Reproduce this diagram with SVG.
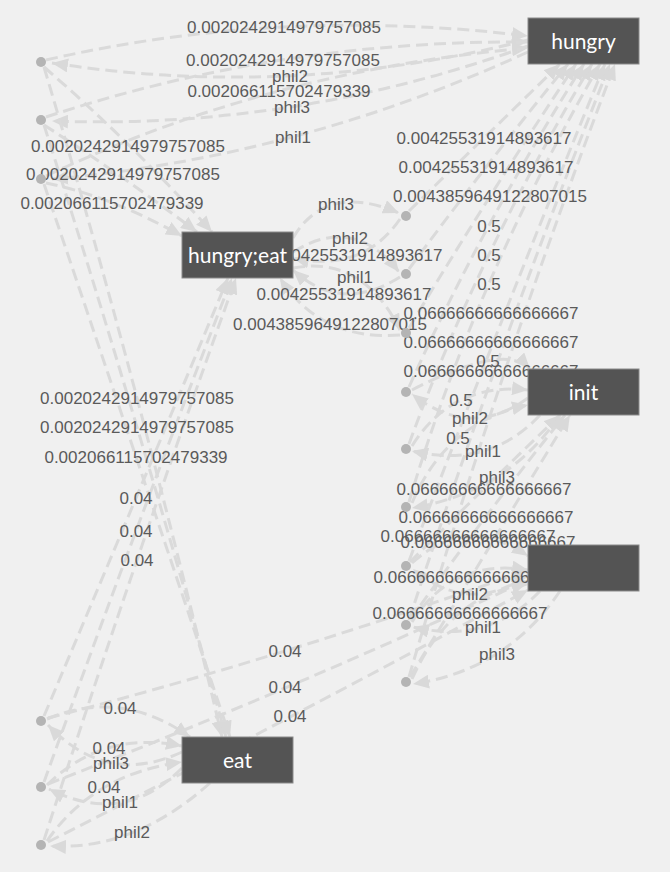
<svg xmlns="http://www.w3.org/2000/svg" width="670" height="872" viewBox="0 0 670 872">
<defs>
<marker id="arr" markerUnits="userSpaceOnUse" markerWidth="16" markerHeight="14" viewBox="0 0 16 14" refX="16" refY="7" orient="auto">
<path d="M0,0 L16,7 L0,14 z" fill="#d9d9d9"/>
</marker>
<style>
.e{fill:none;stroke:#dadada;stroke-width:3;stroke-dasharray:12 6;marker-end:url(#arr)}
.l{font-family:'Liberation Sans',Arial,sans-serif;font-size:17px;fill:#5a5a5a;text-anchor:middle}
.box{fill:#545454;stroke:#8a8a8a;stroke-width:1}
.nt{font-family:Lato,'Open Sans',sans-serif;font-size:21px;fill:#ffffff;text-anchor:middle}
.dot{fill:#b4b4b4}
</style>
</defs>
<rect x="0" y="0" width="670" height="872" fill="#f0f0f0"/>
<g id="connectors">
<path class="e" d="M46,60 Q281,6 528,36"/>
<path class="e" d="M46,117 Q279,40 528,42"/>
<path class="e" d="M46,176 Q271,70 528,48"/>
<path class="e" d="M528,40 Q290,100 52,63"/>
<path class="e" d="M528,46 Q294,130 52,121"/>
<path class="e" d="M528,52 Q296,158 52,179"/>
<path class="e" d="M44,67 Q131,142 212,232"/>
<path class="e" d="M44,125 Q116,171 197,232"/>
<path class="e" d="M46,183 Q110,196 182,236"/>
<path class="e" d="M44,67 Q141,394 222,737"/>
<path class="e" d="M44,125 Q139,423 226,737"/>
<path class="e" d="M44,184 Q135,453 230,737"/>
<path class="e" d="M44,716 Q136,499 228,278"/>
<path class="e" d="M44,782 Q134,532 232,278"/>
<path class="e" d="M44,840 Q134,561 236,278"/>
<path class="e" d="M47,719 Q121,688 190,737"/>
<path class="e" d="M47,785 Q103,730 182,746"/>
<path class="e" d="M47,841 Q93,774 182,762"/>
<path class="e" d="M182,752 Q107,787 48,725"/>
<path class="e" d="M182,768 Q124,827 49,789"/>
<path class="e" d="M210,783 Q134,851 50,846"/>
<path class="e" d="M48,718 Q282,658 528,570"/>
<path class="e" d="M48,784 Q282,694 528,580"/>
<path class="e" d="M48,842 Q292,718 528,590"/>
<path class="e" d="M293,238 Q326,182 399,213"/>
<path class="e" d="M293,252 Q354,214 399,272"/>
<path class="e" d="M293,268 Q363,255 400,330"/>
<path class="e" d="M400,219 Q363,273 293,258"/>
<path class="e" d="M400,277 Q341,314 293,270"/>
<path class="e" d="M400,335 Q320,341 280,278"/>
<path class="e" d="M409,211 Q484,138 560,64"/>
<path class="e" d="M409,269 Q484,167 568,64"/>
<path class="e" d="M409,328 Q488,196 576,64"/>
<path class="e" d="M409,387 Q481,226 584,64"/>
<path class="e" d="M409,444 Q477,256 592,64"/>
<path class="e" d="M409,502 Q473,285 600,64"/>
<path class="e" d="M409,561 Q503,313 605,64"/>
<path class="e" d="M409,620 Q500,342 610,64"/>
<path class="e" d="M409,677 Q498,371 615,64"/>
<path class="e" d="M412,390 Q505,342 530,369"/>
<path class="e" d="M412,446 Q452,382 528,390"/>
<path class="e" d="M412,503 Q446,422 528,405"/>
<path class="e" d="M528,398 Q470,440 412,394"/>
<path class="e" d="M540,415 Q490,469 412,451"/>
<path class="e" d="M560,415 Q508,492 412,508"/>
<path class="e" d="M410,562 Q483,489 560,415"/>
<path class="e" d="M410,620 Q484,516 565,415"/>
<path class="e" d="M410,677 Q490,546 570,415"/>
<path class="e" d="M412,563 Q466,514 528,556"/>
<path class="e" d="M412,622 Q452,558 528,570"/>
<path class="e" d="M412,679 Q450,594 528,584"/>
<path class="e" d="M528,575 Q469,616 413,569"/>
<path class="e" d="M540,591 Q489,645 413,627"/>
<path class="e" d="M560,591 Q507,670 413,684"/>
</g>
<g id="labels">
<text class="l" x="284" y="33">0.0020242914979757085</text>
<text class="l" x="283" y="66">0.0020242914979757085</text>
<text class="l" x="279" y="97">0.002066115702479339</text>
<text class="l" x="290" y="82">phil2</text>
<text class="l" x="292" y="113">phil3</text>
<text class="l" x="293" y="143">phil1</text>
<text class="l" x="128" y="152">0.0020242914979757085</text>
<text class="l" x="123" y="180">0.0020242914979757085</text>
<text class="l" x="112" y="209">0.002066115702479339</text>
<text class="l" x="137" y="404">0.0020242914979757085</text>
<text class="l" x="137" y="433">0.0020242914979757085</text>
<text class="l" x="136" y="463">0.002066115702479339</text>
<text class="l" x="136" y="504">0.04</text>
<text class="l" x="136" y="537">0.04</text>
<text class="l" x="137" y="566">0.04</text>
<text class="l" x="120" y="714">0.04</text>
<text class="l" x="109" y="754">0.04</text>
<text class="l" x="104" y="793">0.04</text>
<text class="l" x="111" y="769">phil3</text>
<text class="l" x="120" y="808">phil1</text>
<text class="l" x="132" y="838">phil2</text>
<text class="l" x="285" y="657">0.04</text>
<text class="l" x="285" y="693">0.04</text>
<text class="l" x="290" y="722">0.04</text>
<text class="l" x="336" y="210">phil3</text>
<text class="l" x="350" y="244">phil2</text>
<text class="l" x="355" y="283">phil1</text>
<text class="l" x="355" y="261">0.00425531914893617</text>
<text class="l" x="344" y="300">0.00425531914893617</text>
<text class="l" x="330" y="330">0.0043859649122807015</text>
<text class="l" x="484" y="144">0.00425531914893617</text>
<text class="l" x="486" y="173">0.00425531914893617</text>
<text class="l" x="490" y="202">0.0043859649122807015</text>
<text class="l" x="489" y="232">0.5</text>
<text class="l" x="489" y="261">0.5</text>
<text class="l" x="489" y="290">0.5</text>
<text class="l" x="491" y="319">0.06666666666666667</text>
<text class="l" x="491" y="348">0.06666666666666667</text>
<text class="l" x="491" y="377">0.06666666666666667</text>
<text class="l" x="488" y="367">0.5</text>
<text class="l" x="461" y="406">0.5</text>
<text class="l" x="458" y="444">0.5</text>
<text class="l" x="470" y="424">phil2</text>
<text class="l" x="483" y="457">phil1</text>
<text class="l" x="497" y="483">phil3</text>
<text class="l" x="484" y="495">0.06666666666666667</text>
<text class="l" x="486" y="523">0.06666666666666667</text>
<text class="l" x="488" y="548">0.06666666666666667</text>
<text class="l" x="468" y="542">0.06666666666666667</text>
<text class="l" x="461" y="583">0.06666666666666667</text>
<text class="l" x="460" y="619">0.06666666666666667</text>
<text class="l" x="470" y="600">phil2</text>
<text class="l" x="483" y="633">phil1</text>
<text class="l" x="497" y="660">phil3</text>
</g>
<g id="dots">
<circle class="dot" cx="41" cy="62" r="5"/>
<circle class="dot" cx="41" cy="120" r="5"/>
<circle class="dot" cx="41" cy="179" r="5"/>
<circle class="dot" cx="41" cy="721" r="5"/>
<circle class="dot" cx="41" cy="787" r="5"/>
<circle class="dot" cx="41" cy="845" r="5"/>
<circle class="dot" cx="406" cy="216" r="5"/>
<circle class="dot" cx="406" cy="274" r="5"/>
<circle class="dot" cx="406" cy="333" r="5"/>
<circle class="dot" cx="406" cy="392" r="5"/>
<circle class="dot" cx="406" cy="449" r="5"/>
<circle class="dot" cx="406" cy="507" r="5"/>
<circle class="dot" cx="406" cy="566" r="5"/>
<circle class="dot" cx="406" cy="625" r="5"/>
<circle class="dot" cx="406" cy="682" r="5"/>
</g>
<g id="node-hungry">
<rect class="box" x="528" y="18" width="111" height="46"/>
<text class="nt" x="583.5" y="49">hungry</text>
</g>
<g id="node-hungry-eat">
<rect class="box" x="182" y="232" width="111" height="46"/>
<text class="nt" x="237.5" y="263">hungry;eat</text>
</g>
<g id="node-init">
<rect class="box" x="528" y="369" width="111" height="46"/>
<text class="nt" x="583.5" y="400">init</text>
</g>
<g id="node-unnamed">
<rect class="box" x="528" y="545" width="111" height="46"/>
</g>
<g id="node-eat">
<rect class="box" x="182" y="737" width="111" height="46"/>
<text class="nt" x="237.5" y="768">eat</text>
</g>
</svg>
